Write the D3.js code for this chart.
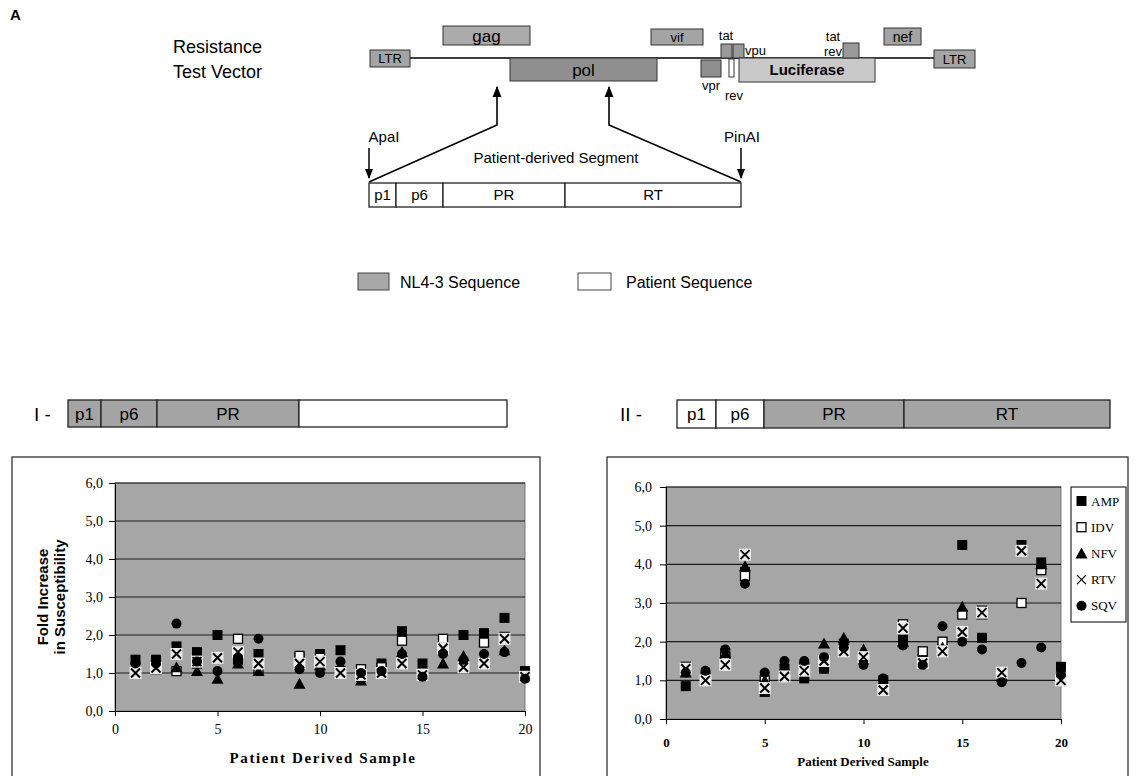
<!DOCTYPE html>
<html><head><meta charset="utf-8">
<script src="https://cdn.jsdelivr.net/npm/d3@7"></script>
<style>body{margin:0;background:#fff}</style></head>
<body><svg id="c" width="1143" height="776"></svg>
<script>
// ---------- DATA ----------
const samples = d3.range(1, 21);
const seriesNames = ["AMP", "IDV", "NFV", "RTV", "SQV"];
// Panel I (p1/p6/PR from NL4-3)
const AMP_I = [1.35,1.35,1.7,1.55,2.0,1.35,1.5,null,1.4,1.5,1.6,0.9,1.25,2.1,1.25,1.85,2.0,2.05,2.45,1.05];
const IDV_I = [1.0,1.1,1.05,1.25,1.4,1.9,1.1,null,1.45,1.4,1.05,1.1,1.15,1.85,0.95,1.9,1.2,1.8,1.95,0.95];
const NFV_I = [1.1,1.2,1.15,1.05,0.85,1.25,1.05,null,0.72,1.2,1.2,0.8,1.0,1.55,0.95,1.25,1.45,1.3,1.6,0.9];
const RTV_I = [1.0,1.13,1.5,1.3,1.4,1.55,1.25,null,1.25,1.3,1.0,0.95,1.0,1.25,0.95,1.65,1.15,1.25,1.9,0.9];
const SQV_I = [1.25,1.25,2.3,1.3,1.05,1.4,1.9,null,1.1,1.0,1.3,1.0,1.05,1.5,0.9,1.5,1.35,1.5,1.55,0.85];
// Panel II (p1/p6 from patient)
const AMP_II = [0.85,1.1,1.7,3.8,0.7,1.3,1.05,1.3,1.95,1.55,1.0,2.05,1.55,1.8,4.5,2.1,1.1,4.5,4.05,1.35];
const IDV_II = [1.35,1.0,1.6,3.7,1.0,1.15,1.35,1.45,1.8,1.6,0.75,2.45,1.75,2.0,2.7,2.8,1.2,3.0,3.85,1.0];
const NFV_II = [1.2,1.1,1.7,3.95,1.0,1.3,1.4,1.95,2.1,1.8,0.9,2.0,1.5,1.85,2.9,2.7,1.1,4.4,4.0,1.2];
const RTV_II = [1.3,1.0,1.4,4.25,0.8,1.1,1.25,1.5,1.75,1.6,0.75,2.35,1.45,1.75,2.25,2.75,1.2,4.35,3.5,1.0];
const SQV_II = [1.2,1.25,1.8,3.5,1.2,1.5,1.5,1.6,1.85,1.4,1.05,1.9,1.4,2.4,2.0,1.8,0.95,1.45,1.85,1.15];
const yTicks = [0, 1, 2, 3, 4, 5, 6];
const xTicks = [0, 5, 10, 15, 20];

// ---------- SVG ----------
const svg = d3.select("#c");
const SANS = "'Liberation Sans', Arial, sans-serif";
const SERIF = "'Liberation Serif', 'Times New Roman', serif";
const GREY = "#a6a6a6";

svg.append("defs").append("marker")
  .attr("id", "ah").attr("viewBox", "0 0 10 10").attr("refX", 9).attr("refY", 5)
  .attr("markerWidth", 7).attr("markerHeight", 9).attr("orient", "auto")
  .append("path").attr("d", "M0,1 L10,5 L0,9 Z").attr("fill", "#000");

// ---------- Top diagram ----------
svg.append("text").attr("x", 10).attr("y", 20).text("A")
  .attr("font-family", SANS).attr("font-weight", "bold").attr("font-size", 15);
svg.append("text").attr("x", 173).attr("y", 53).text("Resistance")
  .attr("font-family", SANS).attr("font-size", 18);
svg.append("text").attr("x", 173).attr("y", 78).text("Test Vector")
  .attr("font-family", SANS).attr("font-size", 18);

svg.append("line").attr("x1", 410).attr("x2", 934).attr("y1", 58).attr("y2", 58)
  .attr("stroke", "#000").attr("stroke-width", 1.5);

const genes = [
  {x:370,y:50,w:40,h:17,f:"#a4a4a4",t:"LTR",fs:13},
  {x:443,y:26,w:87,h:19,f:"#ababab",t:"gag",fs:17},
  {x:510,y:58,w:147,h:23,f:"#8f8f8f",t:"pol",fs:17},
  {x:651,y:29,w:52,h:16,f:"#a4a4a4",t:"vif",fs:13},
  {x:721,y:44,w:11,h:14,f:"#9a9a9a",t:"",fs:12},
  {x:733,y:44,w:11,h:14,f:"#9a9a9a",t:"",fs:12},
  {x:701,y:60,w:20,h:17,f:"#8f8f8f",t:"",fs:12},
  {x:729,y:59,w:5,h:18,f:"#ffffff",t:"",fs:12},
  {x:739,y:58,w:136,h:24,f:"#c9c9c9",t:"Luciferase",fs:15,b:true},
  {x:843,y:43,w:16,h:15,f:"#9a9a9a",t:"",fs:12},
  {x:884,y:28,w:37,h:17,f:"#a4a4a4",t:"nef",fs:14},
  {x:934,y:50,w:41,h:18,f:"#a4a4a4",t:"LTR",fs:13}
];
genes.forEach(g => {
  svg.append("rect").attr("x", g.x).attr("y", g.y).attr("width", g.w).attr("height", g.h)
    .attr("fill", g.f).attr("stroke", "#333").attr("stroke-width", 1);
  if (g.t) svg.append("text").attr("x", g.x + g.w/2).attr("y", g.y + g.h/2 + g.fs*0.36)
    .attr("text-anchor", "middle").attr("font-family", SANS).attr("font-size", g.fs)
    .attr("font-weight", g.b ? "bold" : "normal").text(g.t);
});
const smallLabels = [
  {x:726,y:40,t:"tat",a:"middle"},{x:745,y:55,t:"vpu",a:"start"},
  {x:711,y:90,t:"vpr",a:"middle"},{x:734,y:100,t:"rev",a:"middle"},
  {x:833,y:41,t:"tat",a:"middle"},{x:833,y:56,t:"rev",a:"middle"}
];
smallLabels.forEach(l => svg.append("text").attr("x", l.x).attr("y", l.y).attr("text-anchor", l.a)
  .attr("font-family", SANS).attr("font-size", 13).text(l.t));

svg.append("polyline").attr("points", "369,182 497,125 497,87").attr("fill", "none")
  .attr("stroke", "#000").attr("stroke-width", 1.6).attr("marker-end", "url(#ah)");
svg.append("polyline").attr("points", "741,182 609,125 609,87").attr("fill", "none")
  .attr("stroke", "#000").attr("stroke-width", 1.6).attr("marker-end", "url(#ah)");
[[369,"ApaI",384],[741,"PinAI",742]].forEach(([x,t,tx]) => {
  svg.append("text").attr("x", tx).attr("y", 142).attr("text-anchor", "middle")
    .attr("font-family", SANS).attr("font-size", 15).text(t);
  svg.append("line").attr("x1", x).attr("x2", x).attr("y1", 148).attr("y2", 178)
    .attr("stroke", "#000").attr("stroke-width", 1.5).attr("marker-end", "url(#ah)");
});
svg.append("text").attr("x", 556).attr("y", 163).attr("text-anchor", "middle")
  .attr("font-family", SANS).attr("font-size", 15).text("Patient-derived Segment");

function segBar(x0, y0, h, segs) {
  segs.forEach(s => {
    svg.append("rect").attr("x", x0 + s.a).attr("y", y0).attr("width", s.b - s.a).attr("height", h)
      .attr("fill", s.f).attr("stroke", "#222").attr("stroke-width", 1.3);
    if (s.t) svg.append("text").attr("x", x0 + (s.a + s.b)/2).attr("y", y0 + h/2 + s.fs*0.36)
      .attr("text-anchor", "middle").attr("font-family", SANS).attr("font-size", s.fs).text(s.t);
  });
}
segBar(369, 183, 24, [
  {a:0,b:27,f:"#fff",t:"p1",fs:15},{a:27,b:74,f:"#fff",t:"p6",fs:15},
  {a:74,b:196,f:"#fff",t:"PR",fs:15},{a:196,b:372,f:"#fff",t:"RT",fs:15}]);

// legend (middle)
svg.append("rect").attr("x", 358).attr("y", 273).attr("width", 31).attr("height", 17)
  .attr("fill", "#a8a8a8").attr("stroke", "#444");
svg.append("text").attr("x", 400).attr("y", 288).attr("font-family", SANS).attr("font-size", 16).text("NL4-3 Sequence");
svg.append("rect").attr("x", 578).attr("y", 273).attr("width", 33).attr("height", 17)
  .attr("fill", "#fff").attr("stroke", "#444");
svg.append("text").attr("x", 626).attr("y", 288).attr("font-family", SANS).attr("font-size", 16).text("Patient Sequence");

// panel bars
svg.append("text").attr("x", 34).attr("y", 421).attr("font-family", SANS).attr("font-size", 19).text("I -");
segBar(68, 400, 27, [
  {a:0,b:33,f:"#a4a4a4",t:"p1",fs:17},{a:33,b:89,f:"#a4a4a4",t:"p6",fs:17},
  {a:89,b:231,f:"#a4a4a4",t:"PR",fs:17},{a:231,b:439,f:"#fff",t:"",fs:17}]);
svg.append("text").attr("x", 620).attr("y", 421).attr("font-family", SANS).attr("font-size", 19).text("II -");
segBar(677, 400, 28, [
  {a:0,b:39,f:"#fff",t:"p1",fs:17},{a:39,b:87,f:"#fff",t:"p6",fs:17},
  {a:87,b:227,f:"#a4a4a4",t:"PR",fs:17},{a:227,b:433,f:"#a4a4a4",t:"RT",fs:17}]);

// ---------- Charts ----------
function marker(g, type, cx, cy) {
  if (type === "AMP") g.append("rect").attr("x", cx-5).attr("y", cy-5).attr("width", 10).attr("height", 10).attr("fill", "#000");
  else if (type === "IDV") g.append("rect").attr("x", cx-4.5).attr("y", cy-4.5).attr("width", 9).attr("height", 9)
      .attr("fill", "#fff").attr("stroke", "#000").attr("stroke-width", 1.3);
  else if (type === "NFV") g.append("path").attr("d", `M${cx},${cy-6} L${cx+6},${cy+5} L${cx-6},${cy+5} Z`).attr("fill", "#000");
  else if (type === "RTV") {
    g.append("rect").attr("x", cx-6).attr("y", cy-6).attr("width", 12).attr("height", 12).attr("fill", "#ececec");
    g.append("path").attr("d", `M${cx-4.5},${cy-4.5} L${cx+4.5},${cy+4.5} M${cx+4.5},${cy-4.5} L${cx-4.5},${cy+4.5}`)
      .attr("stroke", "#000").attr("stroke-width", 2);
  }
  else g.append("circle").attr("cx", cx).attr("cy", cy).attr("r", 5).attr("fill", "#000");
}
const fmt = v => d3.format(".1f")(v).replace(".", ",");

function chart(cfg, data) {
  const x = d3.scaleLinear().domain([0, 20]).range([cfg.x0, cfg.x1]);
  const y = d3.scaleLinear().domain([0, 6]).range([cfg.y1, cfg.y0]);
  // frame
  svg.append("rect").attr("x", cfg.fx).attr("y", 457).attr("width", cfg.fw).attr("height", 330)
    .attr("fill", "#fff").attr("stroke", "#222").attr("stroke-width", 1.2);
  // plot bg
  svg.append("rect").attr("x", cfg.x0).attr("y", cfg.y0).attr("width", cfg.x1 - cfg.x0).attr("height", cfg.y1 - cfg.y0)
    .attr("fill", GREY).attr("stroke", "#777").attr("stroke-width", 1);
  // gridlines
  svg.append("g").selectAll("line").data(yTicks.filter(d => d > 0)).join("line")
    .attr("x1", cfg.x0).attr("x2", cfg.x1).attr("y1", d => y(d)).attr("y2", d => y(d))
    .attr("stroke", "#1a1a1a").attr("stroke-width", 1.1);
  // axes
  const ya = svg.append("g").attr("transform", `translate(${cfg.x0},0)`)
    .call(d3.axisLeft(y).tickValues(yTicks).tickSize(6).tickPadding(cfg.yPad).tickFormat(fmt));
  ya.selectAll("text").attr("font-family", SERIF).attr("font-size", 14).attr("fill", "#000");
  ya.selectAll("line,path").attr("stroke", "#000");
  const xa = svg.append("g").attr("transform", `translate(0,${cfg.y1})`)
    .call(d3.axisBottom(x).tickValues(xTicks).tickSize(5).tickSizeOuter(0).tickPadding(cfg.xPad).tickFormat(d3.format("d")));
  xa.selectAll("text").attr("font-family", SERIF).attr("font-size", cfg.xfs).attr("font-weight", cfg.xbold ? "bold" : "normal").attr("fill", "#000");
  xa.selectAll("line,path").attr("stroke", "#000");
  // points
  const pg = svg.append("g");
  seriesNames.forEach((s, si) => {
    data[si].forEach((v, i) => { if (v != null) marker(pg, s, x(samples[i]), y(v)); });
  });
  // x title
  svg.append("text").attr("x", cfg.tx).attr("y", cfg.ty).attr("text-anchor", "middle")
    .attr("font-family", SERIF).attr("font-weight", "bold").attr("font-size", cfg.tfs)
    .attr("letter-spacing", cfg.tls).text("Patient Derived Sample");
  return {x, y};
}

chart({fx:12, fw:528, x0:115, x1:525, y0:483, y1:711, yPad:6, xPad:8, xfs:14, xbold:false,
       tx:323, ty:763, tfs:15, tls:1.6},
      [AMP_I, IDV_I, NFV_I, RTV_I, SQV_I]);
chart({fx:607, fw:521, x0:666, x1:1061, y0:487, y1:719, yPad:8, xPad:14, xfs:13, xbold:true,
       tx:863, ty:766, tfs:13, tls:0},
      [AMP_II, IDV_II, NFV_II, RTV_II, SQV_II]);

// y title (left chart)
const yt = svg.append("text").attr("transform", "translate(48,597) rotate(-90)").attr("text-anchor", "middle")
  .attr("font-family", SANS).attr("font-weight", "bold").attr("font-size", 15);
yt.append("tspan").attr("x", 0).attr("dy", 0).text("Fold Increase");
yt.append("tspan").attr("x", 0).attr("dy", 17).text("in Susceptibility");

// legend (right chart)
const lg = svg.append("g");
lg.append("rect").attr("x", 1071).attr("y", 487).attr("width", 55).attr("height", 135)
  .attr("fill", "#fff").attr("stroke", "#000").attr("stroke-width", 1);
seriesNames.forEach((s, i) => {
  const cy = 501 + i * 26.2;
  if (s === "RTV") lg.append("path").attr("d", `M1077,${cy-4.5} L1086,${cy+4.5} M1086,${cy-4.5} L1077,${cy+4.5}`)
    .attr("stroke", "#000").attr("stroke-width", 1.3);
  else marker(lg, s, 1081.5, cy);
  lg.append("text").attr("x", 1091).attr("y", cy + 4.5).attr("font-family", SERIF).attr("font-size", 13).text(s);
});
</script>
</body></html>
